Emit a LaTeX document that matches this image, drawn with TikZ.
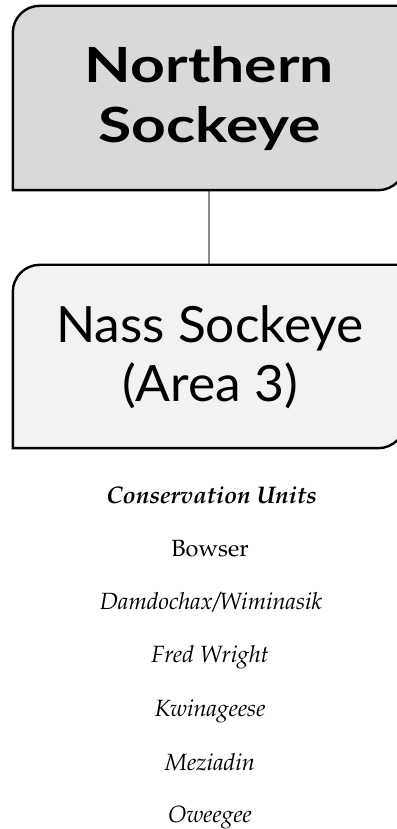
\documentclass[tikz,border=0pt]{standalone}
\usepackage[T1]{fontenc}
\usepackage{fontspec}
\setmainfont{Lato}
\newfontfamily\headfont[FakeStretch=1.25]{Lato}
\newfontfamily\subfont[FakeStretch=1.03]{Lato}
\newcommand\palfont{\fontencoding{T1}\fontfamily{ppl}\selectfont}
\usetikzlibrary{calc}
\definecolor{boxA}{HTML}{D9D9D9}
\definecolor{boxB}{HTML}{F2F2F2}
\definecolor{linkgray}{HTML}{8C8C8C}
\tikzset{
  slot/.style={draw=none, inner sep=0pt, minimum width=392pt},
  boxline/.style={draw=black, line width=2.4pt},
  headtxt/.style={anchor=base, inner sep=0pt, font=\headfont\bfseries\fontsize{48.5}{50}\selectfont},
  subtxt/.style={anchor=base, inner sep=0pt, font=\subfont\fontsize{50}{52}\selectfont},
  cutxt/.style={anchor=base, inner sep=0pt, font=\palfont\itshape\fontsize{23.5}{25}\selectfont},
  cuup/.style={anchor=base, inner sep=0pt, font=\palfont\fontsize{23.5}{25}\selectfont},
  cuhead/.style={anchor=base, inner sep=0pt, font=\palfont\bfseries\itshape\fontsize{24}{26}\selectfont},
  link/.style={draw=linkgray, line width=1.5pt}
}
\begin{document}
\begin{tikzpicture}[x=1pt,y=1pt]
\useasboundingbox (0,0) rectangle (396,829);
% boxes
\node[slot, minimum height=184pt] (north) at (209,731) {};
\node[slot, minimum height=183pt] (nass) at (209,472.5) {};
\draw[link] (north.south) -- (nass.north);
\filldraw[boxline, fill=boxA] (north.south west) -- ([yshift=-27pt]north.north west)
  arc[start angle=180, end angle=90, radius=27pt] -- (north.north east)
  -- ([yshift=27pt]north.south east) arc[start angle=0, end angle=-90, radius=27pt] -- cycle;
\filldraw[boxline, fill=boxB] (nass.south west) -- ([yshift=-27pt]nass.north west)
  arc[start angle=180, end angle=90, radius=27pt] -- (nass.north east)
  -- ([yshift=27pt]nass.south east) arc[start angle=0, end angle=-90, radius=27pt] -- cycle;
% box texts
\node[headtxt] (t1) at (209.5,746) {Northern};
\node[headtxt] (t2) at (209.5,686) {Sockeye};
\node[subtxt] (t3) at (210,486) {Nass Sockeye};
\node[subtxt] (t4) at (210,427) {(Area 3)};
% conservation units
\node[cuhead] (cu) at (211.5,325) {Conservation Units};
\node[cuup] (c1) at (210,272) {Bowser};
\node[cutxt] (c2) at (211,219) {Damdochax/Wiminasik};
\node[cutxt] (c3) at (210,166) {Fred Wright};
\node[cutxt] (c4) at (210,112) {Kwinageese};
\node[cutxt] (c5) at (210,58) {Meziadin};
\node[cutxt] (c6) at (210,6) {Oweegee};
\end{tikzpicture}
\end{document}
